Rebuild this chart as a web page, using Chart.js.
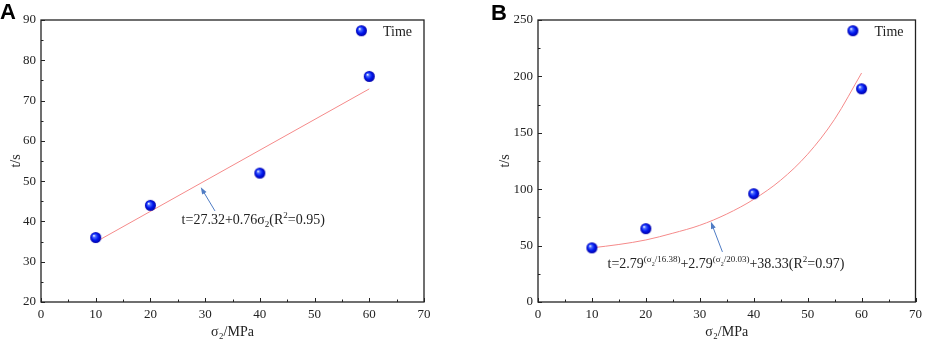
<!DOCTYPE html>
<html>
<head>
<meta charset="utf-8">
<script src="https://cdn.jsdelivr.net/npm/chart.js@4.4.1/dist/chart.umd.min.js"></script>
<style>
  body { margin: 0; background: #fff; width: 927px; height: 341px; position: relative; overflow: hidden; }
  .panel { position: absolute; top: 0; height: 341px; }
  #pa { left: 0; width: 463px; }
  #pb { left: 463px; width: 464px; }
  .tag { position: absolute; font: bold 22px "Liberation Sans", Arial, sans-serif; color: #000; line-height: 22px; }
</style>
</head>
<body>
<div class="panel" id="pa"><canvas id="chartA"></canvas></div>
<div class="panel" id="pb"><canvas id="chartB"></canvas></div>
<div class="tag" style="left:0px;top:1px">A</div>
<div class="tag" style="left:491px;top:2px">B</div>
<script>
// panel A: measured points and linear fit
const stressA = [10, 20, 40, 60];
const timeA = [36, 44, 52, 76];
const fitStressA = [10, 60];
const fitTimeA = [34.9, 72.9];

const stressB = [10, 20, 40, 60];
const timeB = [48, 65, 96, 189];
const fitStressB = [10, 15, 20, 25, 30, 35, 40, 45, 50, 55, 60];
const fitTimeB = [48, 51, 55, 61, 68, 78, 91, 108, 131, 162, 203];

// axis ticks
const xTicks = [0, 10, 20, 30, 40, 50, 60, 70];
const yTicksA = [20, 30, 40, 50, 60, 70, 80, 90];
const yTicksB = [0, 50, 100, 150, 200, 250];

const serif = '"Liberation Serif", "Times New Roman", serif';
const ink = '#222';

function sphere(r) {
  const s = Math.ceil(r * 2) + 2;
  const c = document.createElement('canvas');
  c.width = c.height = s;
  const g = c.getContext('2d');
  const m = s / 2;
  const gr = g.createRadialGradient(m - r * 0.35, m - r * 0.35, r * 0.05, m, m, r);
  gr.addColorStop(0, '#ffffff');
  gr.addColorStop(0.22, '#5070ff');
  gr.addColorStop(0.6, '#0018f0');
  gr.addColorStop(1, '#0000a8');
  g.fillStyle = gr;
  g.beginPath();
  g.arc(m, m, r, 0, Math.PI * 2);
  g.fill();
  return c;
}
const ball = sphere(5.5);

const deco = {
  id: 'deco',
  afterDatasetsDraw(chart, args, o) {
    const { ctx, chartArea: a, scales: { x, y } } = chart;
    ctx.save();
    // frame
    ctx.strokeStyle = ink;
    ctx.lineWidth = 1.3;
    ctx.strokeRect(a.left, a.top, a.right - a.left, a.bottom - a.top);
    // inward ticks, major + minor
    ctx.lineWidth = 1;
    const xs = x.options.ticks.stepSize / 2;
    for (let v = x.min, i = 0; v <= x.max + 1e-9; v += xs, i++) {
      const px = Math.round(x.getPixelForValue(v)) + 0.5;
      const len = i % 2 === 0 ? 4 : 2.5;
      ctx.beginPath(); ctx.moveTo(px, a.bottom); ctx.lineTo(px, a.bottom - len); ctx.stroke();
    }
    const ys = y.options.ticks.stepSize / 2;
    for (let v = y.min, i = 0; v <= y.max + 1e-9; v += ys, i++) {
      const py = Math.round(y.getPixelForValue(v)) + 0.5;
      const len = i % 2 === 0 ? 4 : 2.5;
      ctx.beginPath(); ctx.moveTo(a.left, py); ctx.lineTo(a.left + len, py); ctx.stroke();
    }
    // legend
    ctx.drawImage(ball, a.right - 62.6 - ball.width / 2, a.top + 10.7 - ball.height / 2);
    ctx.fillStyle = ink;
    ctx.font = '14px ' + serif;
    ctx.textBaseline = 'middle';
    ctx.fillText(chart.data.datasets[0].label, a.right - 41, a.top + 12);
    // arrow
    const ar = o.arrow;
    const hx = x.getPixelForValue(ar.x1), hy = y.getPixelForValue(ar.y1);
    const tx = x.getPixelForValue(ar.x2), ty = y.getPixelForValue(ar.y2);
    const ang = Math.atan2(hy - ty, hx - tx);
    ctx.strokeStyle = '#4f7cc4';
    ctx.fillStyle = '#4f7cc4';
    ctx.lineWidth = 1;
    ctx.beginPath(); ctx.moveTo(tx, ty); ctx.lineTo(hx - 5 * Math.cos(ang), hy - 5 * Math.sin(ang)); ctx.stroke();
    ctx.beginPath();
    ctx.moveTo(hx, hy);
    ctx.lineTo(hx - 7 * Math.cos(ang) + 2.5 * Math.sin(ang), hy - 7 * Math.sin(ang) - 2.5 * Math.cos(ang));
    ctx.lineTo(hx - 7 * Math.cos(ang) - 2.5 * Math.sin(ang), hy - 7 * Math.sin(ang) + 2.5 * Math.cos(ang));
    ctx.closePath(); ctx.fill();
    // equation text
    let px = x.getPixelForValue(o.note.x);
    const base = y.getPixelForValue(o.note.y) + 5;
    ctx.fillStyle = ink;
    ctx.textBaseline = 'alphabetic';
    for (const s of o.note.segs) {
      ctx.font = (s.size || 14) + 'px ' + serif;
      ctx.fillText(s.t, px, base + (s.dy || 0));
      px += ctx.measureText(s.t).width;
    }
    ctx.restore();
  }
};

function makeChart(id, cfg) {
  return new Chart(document.getElementById(id), {
    type: 'scatter',
    data: {
      datasets: [
        {
          label: 'Time',
          data: cfg.px.map((v, i) => ({ x: v, y: cfg.py[i] })),
          pointStyle: ball,
          pointRadius: 5.5,
          order: 0
        },
        {
          label: 'Fit',
          type: 'line',
          data: cfg.fx.map((v, i) => ({ x: v, y: cfg.fy[i] })),
          borderColor: '#f58a8a',
          borderWidth: 1,
          pointRadius: 0,
          cubicInterpolationMode: 'monotone',
          fill: false,
          order: 1
        }
      ]
    },
    options: {
      responsive: false,
      animation: false,
      layout: { padding: { top: 20, left: 0, right: cfg.padRight, bottom: 0 } },
      plugins: {
        legend: { display: false },
        tooltip: { enabled: false },
        deco: { arrow: cfg.arrow, note: cfg.note }
      },
      scales: {
        x: {
          type: 'linear',
          min: 0, max: 70,
          afterFit: s => { s.height = 39; },
          afterBuildTicks: s => { s.ticks = xTicks.map(v => ({ value: v })); },
          grid: { display: false, drawTicks: false },
          border: { display: false },
          ticks: { stepSize: 10, padding: 5, color: ink, font: { family: serif, size: 13 }, maxRotation: 0 },
          title: { display: true, text: 'σ₂/MPa', color: ink, font: { family: serif, size: 14 }, padding: { top: 0, bottom: 0 } }
        },
        y: {
          type: 'linear',
          min: cfg.yTicks[0], max: cfg.yTicks[cfg.yTicks.length - 1],
          afterFit: s => { s.width = cfg.yWidth; },
          afterBuildTicks: s => { s.ticks = cfg.yTicks.map(v => ({ value: v })); },
          grid: { display: false, drawTicks: false },
          border: { display: false },
          ticks: { stepSize: cfg.yTicks[1] - cfg.yTicks[0], padding: 5, color: ink, font: { family: serif, size: 13 } },
          title: { display: true, text: 't/s', color: ink, font: { family: serif, size: 14 }, padding: { top: cfg.yTitlePad, bottom: 0 } }
        }
      }
    },
    plugins: [deco]
  });
}

const cA = document.getElementById('chartA'); cA.width = 463; cA.height = 341;
const cB = document.getElementById('chartB'); cB.width = 464; cB.height = 341;

makeChart('chartA', {
  px: stressA, py: timeA, fx: fitStressA, fy: fitTimeA,
  yTicks: yTicksA, yWidth: 41, padRight: 39, yTitlePad: 8,
  arrow: { x1: 29.2, y1: 48.5, x2: 31.8, y2: 42.6 },
  note: {
    x: 25.7, y: 40.6,
    segs: [
      { t: 't=27.32+0.76σ' }, { t: '2', size: 9, dy: 3 },
      { t: '(R' }, { t: '2', size: 9, dy: -6 }, { t: '=0.95)' }
    ]
  }
});

makeChart('chartB', {
  px: stressB, py: timeB, fx: fitStressB, fy: fitTimeB,
  yTicks: yTicksB, yWidth: 75, padRight: 6, yTitlePad: 34,
  arrow: { x1: 32.06, y1: 71.1, x2: 34.2, y2: 44.4 },
  note: {
    x: 12.9, y: 34.4,
    segs: [
      { t: 't=2.79' }, { t: '(σ', size: 9, dy: -6 }, { t: '2', size: 6, dy: -2 }, { t: '/16.38)', size: 9, dy: -6 },
      { t: '+2.79' }, { t: '(σ', size: 9, dy: -6 }, { t: '2', size: 6, dy: -2 }, { t: '/20.03)', size: 9, dy: -6 },
      { t: '+38.33(R' }, { t: '2', size: 9, dy: -6 }, { t: '=0.97)' }
    ]
  }
});
</script>
</body>
</html>
